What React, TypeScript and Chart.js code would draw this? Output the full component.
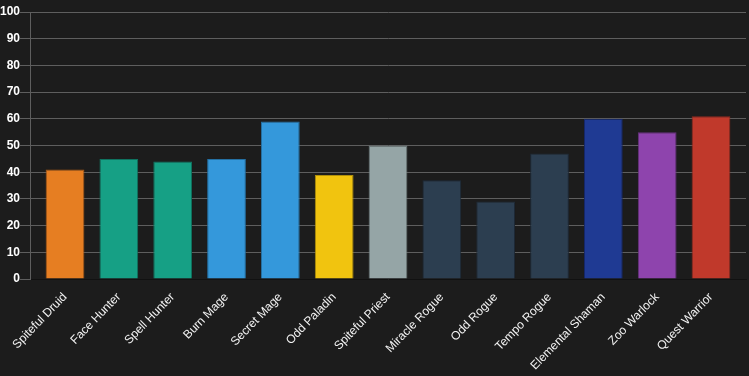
import React, { useEffect, useRef } from "react";
import { Chart, registerables } from "chart.js";

Chart.register(...registerables);

const categories = [
  "Spiteful Druid",
  "Face Hunter",
  "Spell Hunter",
  "Burn Mage",
  "Secret Mage",
  "Odd Paladin",
  "Spiteful Priest",
  "Miracle Rogue",
  "Odd Rogue",
  "Tempo Rogue",
  "Elemental Shaman",
  "Zoo Warlock",
  "Quest Warrior",
];

const values = [41, 45, 44, 45, 59, 39, 50, 37, 29, 47, 60, 55, 61];

const barColors = [
  "#e67e22",
  "#16a085",
  "#16a085",
  "#3498db",
  "#3498db",
  "#f1c40f",
  "#95a5a6",
  "#2c3e50",
  "#2c3e50",
  "#2c3e50",
  "#1f3a93",
  "#8e44ad",
  "#c0392b",
];

const borderColors = [
  "#a85a17",
  "#0f7360",
  "#0f7360",
  "#2470a3",
  "#2470a3",
  "#b08f0a",
  "#6d7a7b",
  "#1e2a37",
  "#1e2a37",
  "#1e2a37",
  "#15286a",
  "#67317e",
  "#8e2a20",
];

const yTicks = [0, 10, 20, 30, 40, 50, 60, 70, 80, 90, 100];

export default function App() {
  const ref = useRef<HTMLCanvasElement | null>(null);

  useEffect(() => {
    document.body.style.margin = "0";
    document.body.style.background = "#1c1c1c";
    const ctx = ref.current;
    if (!ctx) return;
    const points = values.map((v, i) => ({ x: i, y: v }));
    const chart = new Chart(ctx, {
      type: "bar",
      data: {
        datasets: [
          {
            data: points,
            backgroundColor: barColors,
            borderColor: borderColors,
            borderWidth: 1,
            barPercentage: 0.9,
            categoryPercentage: 0.8,
          },
        ],
      },
      options: {
        animation: false,
        responsive: false,
        maintainAspectRatio: false,
        layout: { padding: { top: 12, right: 3, left: 0, bottom: 0 } },
        plugins: {
          legend: { display: false },
          tooltip: { enabled: false },
        },
        scales: {
          x: {
            type: "linear",
            offset: false,
            min: -0.65,
            max: categories.length - 1 + 0.65,
            afterBuildTicks: (scale: any) => {
              scale.ticks = categories.map((_, i) => ({ value: i }));
            },
            afterFit: (scale: any) => {
              scale.paddingLeft = 0;
              scale.paddingRight = 0;
            },
            grid: { display: false, offset: false },
            border: { color: "#111" },
            ticks: {
              color: "#f2f2f2",
              padding: 3,
              font: { family: "Liberation Sans, Arial, sans-serif", size: 12 },
              maxRotation: 46,
              minRotation: 46,
              autoSkip: false,
              callback: (v: any) => categories[Math.round(Number(v))] ?? "",
            },
          },
          y: {
            min: 0,
            max: 100,
            afterBuildTicks: (scale: any) => {
              scale.ticks = yTicks.map((v) => ({ value: v }));
            },
            ticks: {
              padding: 0,
              color: "#ffffff",
              font: { family: "Liberation Sans, Arial, sans-serif", size: 12, weight: "bold" },
            },
            grid: { color: "#5e5e5e", tickLength: 10 },
            border: { color: "#5e5e5e" },
          },
        },
      },
    });
    return () => chart.destroy();
  }, []);

  return (
    <div style={{ width: 749, height: 376, background: "#1c1c1c" }}>
      <canvas ref={ref} width={749} height={376} style={{ display: "block" }} />
    </div>
  );
}
